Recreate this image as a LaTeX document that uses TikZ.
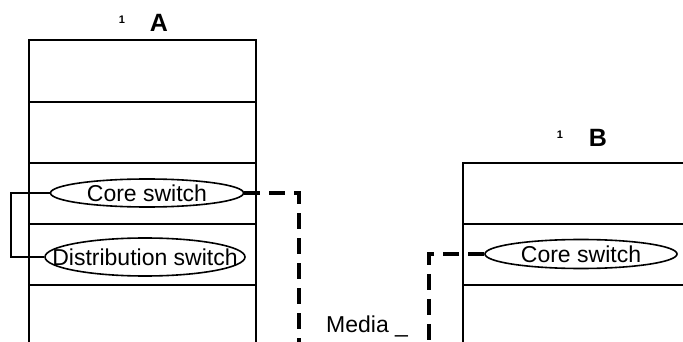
\documentclass[tikz,border=0pt]{standalone}
\usepackage{fontspec}
\setmainfont{Liberation Sans}
\usetikzlibrary{shapes.geometric}
\begin{document}
\begin{tikzpicture}[x=1pt,y=-1pt,
  wall/.style={line width=1.8pt},
  switchnode/.style={draw,ellipse,line width=1.6pt,inner sep=0pt,
    label={[font=\fontsize{23}{26}\selectfont,inner sep=0pt]center:#1}},
  media/.style={line width=3.5pt,dash pattern=on 16pt off 9pt},
  patch/.style={line width=2.2pt},
  tag/.style={font=\bfseries\fontsize{25}{28}\selectfont,inner sep=0pt},
  num/.style={font=\bfseries\fontsize{11}{12}\selectfont,inner sep=0pt}]
\useasboundingbox (0,0) rectangle (683,342);
% Building A (open at the bottom)
\draw[wall] (29,342) -- (29,40) -- (256,40) -- (256,342);
\foreach \yy in {102,163,224,285} \draw[wall] (29,\yy) -- (256,\yy);
% Building B (runs past the right edge)
\draw[wall] (463,342) -- (463,163) -- (690,163);
\foreach \yy in {224,285} \draw[wall] (463,\yy) -- (690,\yy);
% Labels
\node[num] (n1) at (122,20) {1};
\node[tag] (la) at (159,23) {A};
\node[num] (n2) at (560,135) {1};
\node[tag] (lb) at (598,138) {B};
% Switches
\node[switchnode={Core switch},minimum width=193pt,minimum height=28pt] (coreA) at (147,193) {};
\node[switchnode={Distribution switch},minimum width=200pt,minimum height=38pt] (dist) at (145,257) {};
\node[switchnode={Core switch},minimum width=192pt,minimum height=29pt] (coreB) at (581,254) {};
% Patch between core and distribution switch in A
\coordinate (pa) at (11,193);
\coordinate (pb) at (11,257);
\draw[patch] (coreA.west) -- (pa) -- (pb) -- (dist.west);
% Media link between buildings
\coordinate (ma) at (299,193);
\coordinate (mb) at (299,345);
\coordinate (mc) at (429,254);
\coordinate (md) at (429,345);
\draw[media] (coreA.east) -- (ma) -- (mb);
\draw[media] (coreB.west) -- (mc) -- (md);
\node[font=\fontsize{23}{26}\selectfont,anchor=west,inner sep=0pt] (ml) at (326,326) {Media \_};
\end{tikzpicture}
\end{document}
